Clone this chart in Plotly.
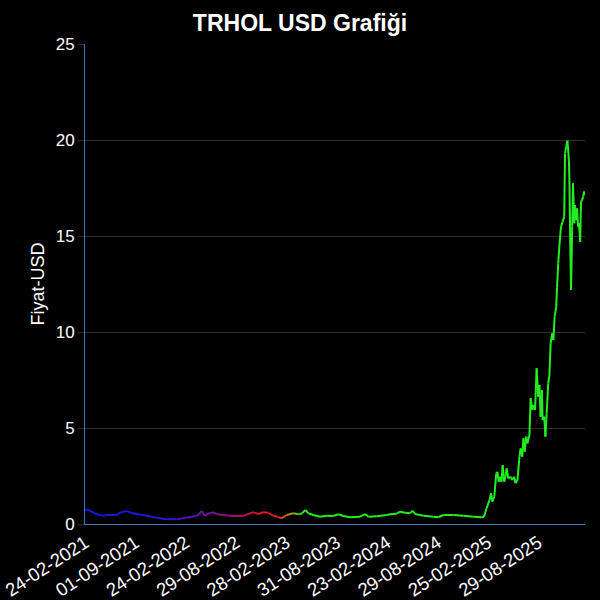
import plotly.graph_objects as go

# trading-day index of each sampled point
day_index = [0, 8, 13, 25, 42, 54, 79, 88, 95, 104, 120, 138, 154, 179, 204, 229, 254, 280, 285, 292,
             295, 300, 308, 313, 321, 330, 346, 363, 380, 396, 413, 421, 434, 446, 459, 471, 484, 492,
             505, 521, 534, 543, 551, 559, 571, 588, 605, 621, 634, 646, 663, 688, 701, 709, 730, 755,
             763, 780, 788, 801, 813, 820, 826, 847, 872, 884, 897, 922, 947, 972, 993, 998, 1005, 1012,
             1016, 1019, 1024, 1029, 1032, 1035, 1039, 1042, 1045, 1049, 1052, 1055, 1059, 1065, 1069,
             1074, 1077, 1082, 1087, 1090, 1094, 1097, 1100, 1104, 1107, 1112, 1115, 1119, 1122, 1126,
             1130, 1134, 1137, 1140, 1143, 1145, 1149, 1152, 1155, 1159, 1162, 1165, 1169, 1172, 1175,
             1179, 1181, 1184, 1187, 1191, 1195, 1199, 1201, 1204, 1207, 1209, 1211, 1212, 1214, 1216,
             1219, 1221, 1224, 1226, 1229, 1231, 1234, 1236, 1239, 1241, 1244, 1246, 1249, 1251]

price_usd = [0.73, 0.75, 0.68, 0.56, 0.42, 0.47, 0.47, 0.59, 0.62, 0.68, 0.56, 0.50, 0.43, 0.33, 0.25,
             0.25, 0.33, 0.43, 0.50, 0.68, 0.55, 0.43, 0.55, 0.56, 0.61, 0.51, 0.47, 0.43, 0.42, 0.42,
             0.56, 0.61, 0.52, 0.61, 0.58, 0.43, 0.36, 0.30, 0.47, 0.56, 0.51, 0.55, 0.73, 0.56, 0.47,
             0.38, 0.43, 0.42, 0.51, 0.42, 0.35, 0.38, 0.52, 0.38, 0.40, 0.47, 0.51, 0.54, 0.64, 0.59,
             0.56, 0.69, 0.52, 0.43, 0.38, 0.35, 0.47, 0.47, 0.43, 0.38, 0.35, 0.38, 0.82, 1.25, 1.60,
             1.16, 1.42, 2.64, 2.72, 2.20, 2.46, 2.20, 3.07, 2.20, 2.46, 2.90, 2.38, 2.46, 2.29, 2.46,
             2.12, 2.29, 3.51, 3.94, 3.51, 4.46, 3.77, 4.55, 4.20, 4.64, 6.55, 5.94, 6.20, 5.94, 8.11,
             6.63, 7.24, 5.59, 6.98, 5.42, 5.59, 4.55, 5.77, 7.33, 7.76, 9.41, 9.93, 9.58, 10.80, 11.30,
             12.30, 13.58, 14.53, 15.48, 15.75, 16.00, 19.30, 19.65, 19.97, 19.48, 18.80, 17.92, 14.79,
             12.19, 15.48, 17.74, 15.66, 16.61, 15.83, 16.44, 15.48, 15.66, 14.70, 16.79, 16.88, 17.05,
             17.32, 17.14]

tick_index = [0, 126, 252, 378, 504, 630, 756, 882, 1008, 1134]
tick_labels = ["24-02-2021", "01-09-2021", "24-02-2022", "29-08-2022", "28-02-2023",
               "31-08-2023", "23-02-2024", "29-08-2024", "25-02-2025", "29-08-2025"]

# colour stops for the gradient line (day index -> colour)
color_stops = [(0, (21, 21, 216)), (180, (26, 26, 216)), (260, (80, 16, 192)), (310, (122, 16, 160)),
               (400, (176, 16, 90)), (450, (224, 26, 26)), (480, (224, 32, 16)), (500, (208, 96, 16)),
               (520, (144, 160, 32)), (545, (48, 224, 32)), (560, (34, 238, 34)), (1300, (34, 238, 34))]


def color_at(v):
    for (a, ca), (b, cb) in zip(color_stops[:-1], color_stops[1:]):
        if a <= v <= b:
            t = (v - a) / (b - a) if b > a else 0
            c = [round(ca[k] + (cb[k] - ca[k]) * t) for k in range(3)]
            return f"rgb({c[0]},{c[1]},{c[2]})"
    return "rgb(34,238,34)"


fig = go.Figure()
for i in range(len(day_index) - 1):
    mid = (day_index[i] + day_index[i + 1]) / 2
    fig.add_trace(go.Scatter(
        x=day_index[i:i + 2], y=price_usd[i:i + 2], mode="lines",
        line=dict(color=color_at(mid), width=2), showlegend=False, hoverinfo="skip"))

font_family = "Liberation Sans, Arial, sans-serif"
axis_blue = "#3d7ab5"
grid = "#2c2c2c"

W = H = 600

fig.update_layout(
    width=W, height=H,
    paper_bgcolor="black", plot_bgcolor="black",
    margin=dict(l=85, r=15, t=44, b=76),
    font=dict(family=font_family, color="white"),
    title=dict(text="<b>TRHOL USD Grafiği</b>", x=0.5, xanchor="center", y=1 - 23 / H,
               yanchor="middle", yref="container", font=dict(size=23, color="white")),
    xaxis=dict(range=[0, 1251], tickmode="array", tickvals=tick_index, ticktext=tick_labels,
               tickangle=-33, showgrid=False, zeroline=False, showline=True, linecolor=axis_blue,
               linewidth=1, ticks="", tickfont=dict(size=18.5, color="white"), automargin=False,
               ticklabeloverflow="allow"),
    yaxis=dict(range=[0, 25], dtick=5, showgrid=True, gridcolor=grid, zeroline=False,
               showline=True, linecolor=axis_blue, linewidth=1, ticks="outside", ticklen=6,
               tickcolor=grid, tickfont=dict(size=17, color="white"), automargin=False,
               title=dict(text="Fiyat-USD", font=dict(size=18, color="white"), standoff=6)),
)

fig.write_html("out.html", config={"displayModeBar": False},
               post_script="document.body.style.margin='0';")
